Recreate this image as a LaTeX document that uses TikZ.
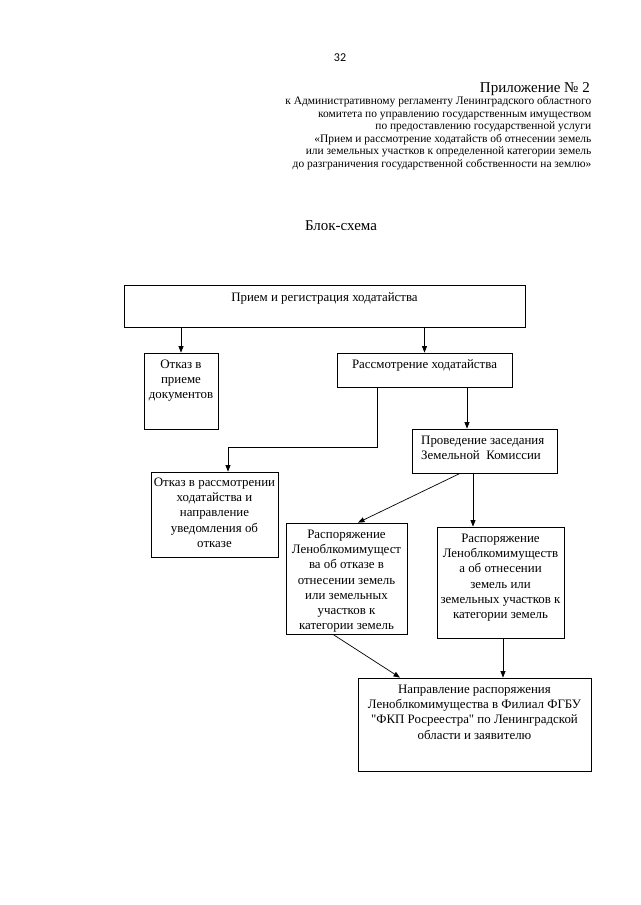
\documentclass[tikz,border=0pt]{standalone}
\usepackage{fontspec}
\setmainfont{Liberation Serif}
\newfontfamily\qfont{Liberation Serif}[Ligatures=TeXOff]
\newfontfamily\numfont{Carlito}
\usetikzlibrary{arrows.meta}
\newcommand\bxfont{\fontsize{12.9}{15.3}\selectfont}
\newcommand\hdrfont{\fontsize{11.45}{12.5}\selectfont}
\newcommand\sq{{\qfont\char"22}}
\begin{document}
\begin{tikzpicture}[x=1pt,y=-1pt,
  box/.style={draw, line width=0.8pt, inner sep=0pt},
  txt/.style={font=\bxfont, align=center, anchor=north, inner sep=0pt},
  arr/.style={-{Triangle[length=6.5pt,width=5pt]}, line width=0.7pt},
  ln/.style={line width=0.7pt}]
\useasboundingbox[fill=white] (0,0) rectangle (640,905);

% header
\node[font=\numfont\fontsize{12}{14}\selectfont, anchor=base, inner sep=0pt] (pg) at (340,61.5) {32};
\node[font=\fontsize{15}{17}\selectfont, anchor=base east, inner sep=0pt] (app) at (590,92) {Приложение № 2};
\node[font=\hdrfont, align=right, anchor=north east, inner sep=0pt] (hdr) at (591.5,96.3) {к Административному регламенту Ленинградского областного\\
комитета по управлению государственным имуществом\\
по предоставлению государственной услуги\\
«Прием и рассмотрение ходатайств об отнесении земель\\
или земельных участков к определенной категории земель\\
до разграничения государственной собственности на землю»};
\node[font=\fontsize{15}{17}\selectfont, anchor=base, inner sep=0pt] (title) at (341,230.5) {Блок-схема};

% boxes
\node[box, minimum width=401pt, minimum height=42pt] (b1) at (324.5,306) {};
\node[box, minimum width=74pt, minimum height=76pt] (b2) at (181,391) {};
\node[box, minimum width=175pt, minimum height=34pt] (b3) at (424.5,370) {};
\node[box, minimum width=145pt, minimum height=44pt] (b4) at (484.5,451) {};
\node[box, minimum width=127pt, minimum height=85pt] (b5) at (214.5,514.5) {};
\node[box, minimum width=121pt, minimum height=111pt] (b6) at (346.5,578.5) {};
\node[box, minimum width=127pt, minimum height=111pt] (b7) at (500.5,582.5) {};
\node[box, minimum width=233pt, minimum height=93pt] (b8) at (474.5,724.5) {};

% texts
\node[txt] (t1) at (324.5,292) {Прием и регистрация ходатайства};
\node[txt] (t2) at (181,359.5) {Отказ в\\приеме\\документов};
\node[txt] (t3) at (424.5,359) {Рассмотрение ходатайства};
\node[txt, align=left, anchor=north west] (t4) at (421,435.5) {Проведение заседания\\Земельной\ \ Комиссии};
\node[txt] (t5) at (214.5,477.5) {Отказ в рассмотрении\\ходатайства и\\направление\\уведомления об\\отказе};
\node[txt] (t6) at (346.5,529.5) {Распоряжение\\Леноблкомимущест\\ва об отказе в\\отнесении земель\\или земельных\\участков к\\категории земель};
\node[txt] (t7) at (500.5,533.5) {Распоряжение\\Леноблкомимуществ\\а об отнесении\\земель или\\земельных участков к\\категории земель};
\node[txt] (t8) at (474.5,684.5) {Направление распоряжения\\Леноблкомимущества в Филиал ФГБУ\\\sq ФКП Росреестра\sq{} по Ленинградской\\области и заявителю};

% helper coordinates
\coordinate (k1) at (377,447);
\coordinate (k2) at (228,447);
\coordinate (k3) at (467,0);
\coordinate (k4) at (460,0);
\coordinate (k5) at (358,0);
\coordinate (k6) at (473,0);
\coordinate (k7) at (333,0);
\coordinate (k8) at (400,0);
\coordinate (k9) at (503,0);

% connectors
\draw[arr] (b1.south -| b2.north) -- (b2.north);
\draw[arr] (b1.south -| b3.north) -- (b3.north);
\draw[arr] (b3.south -| k1) -- (k1) -- (k2) -- (k2 |- b5.north);
\draw[arr] (b3.south -| k3) -- (b4.north -| k3);
\draw[arr] (b4.south -| k4) -- (b6.north -| k5);
\draw[arr] (b4.south -| k6) -- (b7.north -| k6);
\draw[arr] (b6.south -| k7) -- (b8.north -| k8);
\draw[arr] (b7.south -| k9) -- (b8.north -| k9);
\end{tikzpicture}
\end{document}
